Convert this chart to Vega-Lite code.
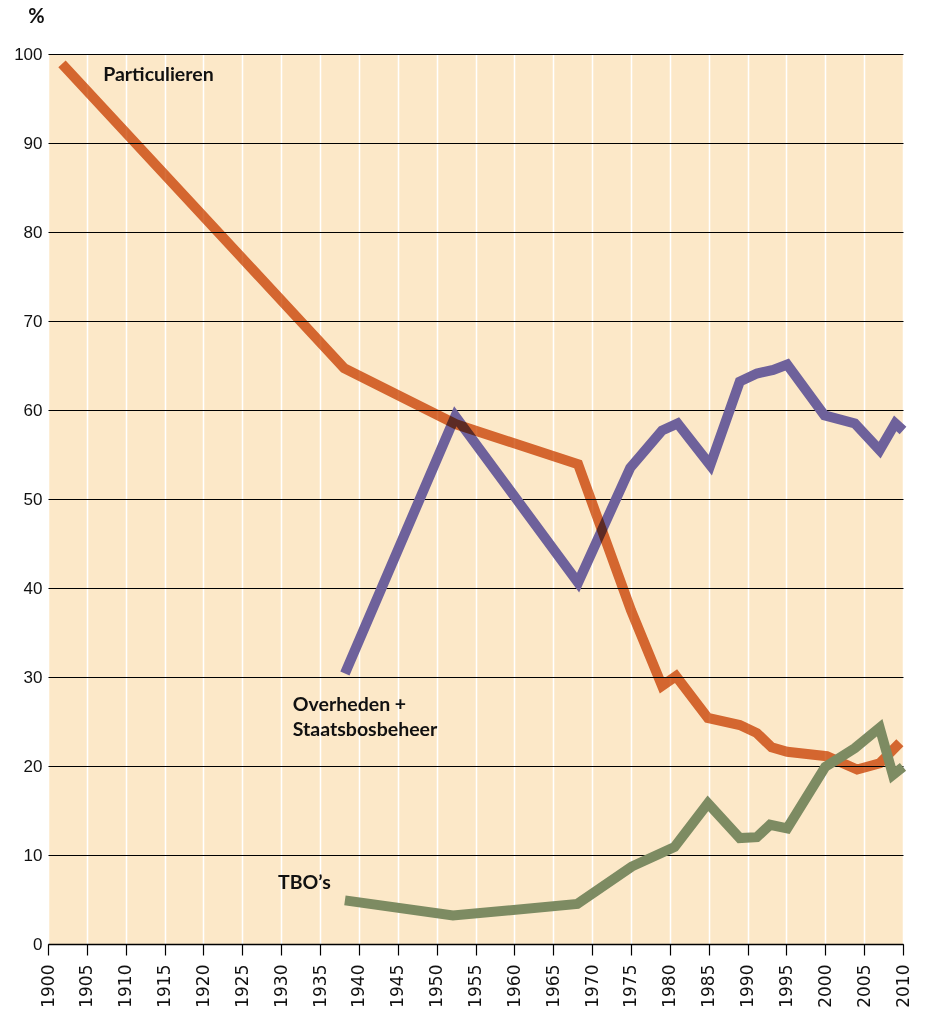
{
  "$schema": "https://vega.github.io/schema/vega-lite/v6.json",
  "width": 855,
  "height": 890,
  "autosize": {"type": "none"},
  "padding": {"left": 48, "top": 54, "right": 22, "bottom": 76},
  "background": "white",
  "config": {
    "view": {"fill": "#FCE8C8", "stroke": null},
    "font": "Liberation Sans"
  },
  "datasets": {
    "series": [
      {"serie": "Particulieren", "year": 1901.8, "value": 98.9},
      {"serie": "Particulieren", "year": 1938.1, "value": 64.7},
      {"serie": "Particulieren", "year": 1952.5, "value": 58.4},
      {"serie": "Particulieren", "year": 1968.2, "value": 53.9},
      {"serie": "Particulieren", "year": 1975.0, "value": 37.5},
      {"serie": "Particulieren", "year": 1979.0, "value": 29.0},
      {"serie": "Particulieren", "year": 1980.8, "value": 30.1},
      {"serie": "Particulieren", "year": 1984.9, "value": 25.4},
      {"serie": "Particulieren", "year": 1989.0, "value": 24.6},
      {"serie": "Particulieren", "year": 1991.2, "value": 23.7},
      {"serie": "Particulieren", "year": 1993.1, "value": 22.1},
      {"serie": "Particulieren", "year": 1995.1, "value": 21.6},
      {"serie": "Particulieren", "year": 2000.2, "value": 21.1},
      {"serie": "Particulieren", "year": 2004.1, "value": 19.6},
      {"serie": "Particulieren", "year": 2007.0, "value": 20.3},
      {"serie": "Particulieren", "year": 2009.6, "value": 22.6},
      {"serie": "Overheden", "year": 1938.2, "value": 30.4},
      {"serie": "Overheden", "year": 1952.4, "value": 59.3},
      {"serie": "Overheden", "year": 1968.2, "value": 40.6},
      {"serie": "Overheden", "year": 1974.9, "value": 53.5},
      {"serie": "Overheden", "year": 1979.0, "value": 57.7},
      {"serie": "Overheden", "year": 1981.0, "value": 58.5},
      {"serie": "Overheden", "year": 1985.2, "value": 53.8},
      {"serie": "Overheden", "year": 1989.0, "value": 63.2},
      {"serie": "Overheden", "year": 1991.2, "value": 64.1},
      {"serie": "Overheden", "year": 1993.3, "value": 64.5},
      {"serie": "Overheden", "year": 1995.1, "value": 65.1},
      {"serie": "Overheden", "year": 1999.9, "value": 59.4},
      {"serie": "Overheden", "year": 2003.8, "value": 58.5},
      {"serie": "Overheden", "year": 2007.0, "value": 55.5},
      {"serie": "Overheden", "year": 2009.0, "value": 58.5},
      {"serie": "Overheden", "year": 2010.0, "value": 57.7},
      {"serie": "TBO", "year": 1938.2, "value": 4.9},
      {"serie": "TBO", "year": 1952.1, "value": 3.2},
      {"serie": "TBO", "year": 1968.1, "value": 4.5},
      {"serie": "TBO", "year": 1975.1, "value": 8.7},
      {"serie": "TBO", "year": 1980.6, "value": 10.9},
      {"serie": "TBO", "year": 1984.9, "value": 15.8},
      {"serie": "TBO", "year": 1989.0, "value": 11.9},
      {"serie": "TBO", "year": 1991.2, "value": 12.0},
      {"serie": "TBO", "year": 1992.9, "value": 13.4},
      {"serie": "TBO", "year": 1995.1, "value": 13.0},
      {"serie": "TBO", "year": 2000.0, "value": 19.9},
      {"serie": "TBO", "year": 2003.8, "value": 22.0},
      {"serie": "TBO", "year": 2007.0, "value": 24.3},
      {"serie": "TBO", "year": 2008.7, "value": 19.0},
      {"serie": "TBO", "year": 2010.0, "value": 19.9}
    ],
    "labels": [
      {"label": "Particulieren", "year": 1907.1, "value": 97.6},
      {"label": "Overheden +", "year": 1931.5, "value": 26.8},
      {"label": "Staatsbosbeheer", "year": 1931.5, "value": 24.0},
      {"label": "TBO’s", "year": 1929.6, "value": 6.85}
    ]
  },
  "encoding": {
    "x": {
      "field": "year",
      "type": "quantitative",
      "scale": {"domain": [1900, 2010], "nice": false, "zero": false},
      "axis": {
        "title": null,
        "values": [1900, 1905, 1910, 1915, 1920, 1925, 1930, 1935, 1940, 1945, 1950, 1955, 1960, 1965, 1970, 1975, 1980, 1985, 1990, 1995, 2000, 2005, 2010],
        "format": "d",
        "labelAngle": -90,
        "labelFont": "DejaVu Sans",
        "labelFontSize": 17,
        "labelColor": "#111",
        "labelPadding": 9,
        "labelFlush": false,
        "labelOverlap": false,
        "grid": true,
        "gridColor": "white",
        "gridWidth": 1.5,
        "domain": true,
        "domainColor": "black",
        "domainWidth": 1.5,
        "ticks": true,
        "tickColor": "black",
        "tickWidth": 1.2,
        "tickSize": 11
      }
    },
    "y": {
      "field": "value",
      "type": "quantitative",
      "scale": {"domain": [0, 100], "nice": false},
      "axis": {
        "title": "%",
        "titleAngle": 0,
        "titleX": -12,
        "titleY": -38,
        "titleAlign": "center",
        "titleBaseline": "middle",
        "titleFont": "Lato",
        "titleFontSize": 20,
        "titleFontWeight": "bold",
        "titleColor": "#111",
        "values": [0, 10, 20, 30, 40, 50, 60, 70, 80, 90, 100],
        "labelFontSize": 17,
        "labelColor": "#111",
        "labelPadding": 6,
        "grid": true,
        "gridColor": "black",
        "gridWidth": 1.2,
        "domain": false,
        "ticks": false
      }
    }
  },
  "layer": [
    {
      "data": {"name": "series"},
      "transform": [{"filter": "datum.serie === 'Overheden'"}],
      "mark": {"type": "line", "color": "#6E619B", "strokeWidth": 10, "strokeJoin": "miter", "strokeCap": "butt"},
      "encoding": {}
    },
    {
      "data": {"name": "series"},
      "transform": [{"filter": "datum.serie === 'Particulieren'"}],
      "mark": {"type": "line", "color": "#D7703C", "strokeWidth": 10, "strokeJoin": "miter", "strokeCap": "butt", "blend": "multiply"},
      "encoding": {}
    },
    {
      "data": {"name": "series"},
      "transform": [{"filter": "datum.serie === 'TBO'"}],
      "mark": {"type": "line", "color": "#7D8B62", "strokeWidth": 10, "strokeJoin": "miter", "strokeCap": "butt"},
      "encoding": {}
    },
    {
      "data": {"name": "labels"},
      "mark": {"type": "text", "align": "left", "baseline": "middle", "font": "Lato", "fontWeight": "bold", "fontSize": 19.5, "color": "#111"},
      "encoding": {"text": {"field": "label", "type": "nominal"}}
    }
  ]
}
